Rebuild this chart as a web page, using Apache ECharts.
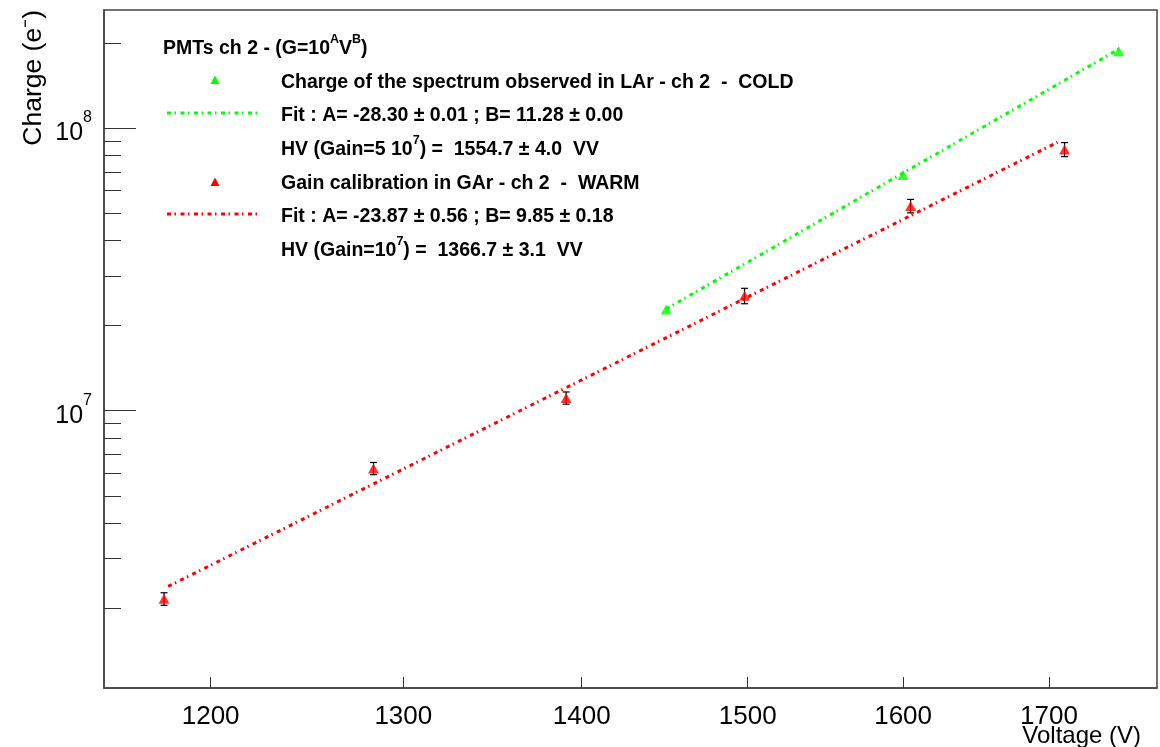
<!DOCTYPE html>
<html>
<head>
<meta charset="utf-8">
<script src="https://cdn.jsdelivr.net/npm/echarts@6/dist/echarts.min.js"></script>
<style>html,body{margin:0;padding:0;background:#fff}#c{width:1160px;height:747px}</style>
</head>
<body>
<div id="c"></div>
<script>
// ---- data ----
const xTickValues = [1200, 1300, 1400, 1500, 1600, 1700];
const yMajorTicks = [1e7, 1e8];
const yMinorTicks = [2e6, 3e6, 4e6, 5e6, 6e6, 7e6, 8e6, 9e6,
                     2e7, 3e7, 4e7, 5e7, 6e7, 7e7, 8e7, 9e7, 2e8];

const warmVoltage = [1177, 1284, 1391, 1498, 1605, 1711];
const warmCharge  = [2.16e6, 6.25e6, 1.11e7, 2.55e7, 5.30e7, 8.40e7];
const warmError   = [0.11e6, 0.31e6, 0.55e6, 1.6e6, 2.9e6, 4.8e6];

const coldVoltage = [1450, 1600, 1750];
const coldCharge  = [2.28e7, 6.82e7, 1.87e8];

const warmFitVoltage = [1179, 1706];
const warmFitCharge  = [2.39e6, 8.9e7];
const coldFitVoltage = [1450, 1750];
const coldFitCharge  = [2.29e7, 1.90e8];

const legendTitle = 'PMTs ch 2 - (G=10{s|A}{t|V}{s|B}{t|)}';
const legendRows = [
  'Charge of the spectrum observed in LAr - ch 2  -  COLD',
  'Fit : A= -28.30 \u00b1 0.01 ; B= 11.28 \u00b1 0.00',
  'HV (Gain=5 10{s|7}{t|) =  1554.7 \u00b1 4.0  VV}',
  'Gain calibration in GAr - ch 2  -  WARM',
  'Fit : A= -23.87 \u00b1 0.56 ; B= 9.85 \u00b1 0.18',
  'HV (Gain=10{s|7}{t|) =  1366.7 \u00b1 3.1  VV}'
];

// ---- chart ----
const FONT = '"Liberation Sans", Arial, Helvetica, sans-serif';
const RED = '#ff0000', GREEN = '#00ff00';
const zip = (a, b) => a.map((v, i) => [v, b[i]]);
const chart = echarts.init(document.getElementById('c'));

const legendY = [80, 113, 147, 181, 214, 248];
const legendText = 281;
const richLegend = {
  t: {fontFamily: FONT, fontWeight: 'bold', fontSize: 19.5, fill: '#000', lineHeight: 26, verticalAlign: 'bottom'},
  s: {fontFamily: FONT, fontWeight: 'bold', fontSize: 12.5, fill: '#000', lineHeight: 12, verticalAlign: 'top'}
};
function richWrap(txt) {
  const i = txt.indexOf('{');
  if (i < 0) return '{t|' + txt + '}';
  return '{t|' + txt.slice(0, i) + '}' + txt.slice(i);
}
const graphics = [];
graphics.push({type: 'text', x: 163, y: 46, z: 10,
  style: {text: richWrap(legendTitle), rich: richLegend, textVerticalAlign: 'middle'}});
legendRows.forEach((r, i) => {
  graphics.push({type: 'text', x: legendText, y: legendY[i], z: 10,
    style: {text: richWrap(r), rich: richLegend, textVerticalAlign: 'middle'}});
});
function tri(cx, cy, color) {
  return {type: 'polygon', z: 10, shape: {points: [[cx - 4.5, cy + 4], [cx + 4.5, cy + 4], [cx, cy - 4.5]]},
    style: {fill: color}};
}
graphics.push(tri(215, 80, GREEN));
graphics.push(tri(215, 182, RED));
graphics.push({type: 'line', z: 10, shape: {x1: 167, y1: 113, x2: 257, y2: 113},
  style: {stroke: GREEN, lineWidth: 3, lineDash: [4, 3.5, 1.5, 4.5]}});
graphics.push({type: 'line', z: 10, shape: {x1: 167, y1: 214, x2: 257, y2: 214},
  style: {stroke: RED, lineWidth: 3, lineDash: [4, 3.5, 1.5, 4.5]}});
// axis titles
graphics.push({type: 'text', x: 34, y: 10, rotation: Math.PI / 2,
  style: {text: 'Charge (e\u207B)', font: '26.5px ' + FONT, fill: '#000', textAlign: 'right', textVerticalAlign: 'middle'}});
graphics.push({type: 'text', x: 1141, y: 736,
  style: {text: 'Voltage (V)', font: '24px ' + FONT, fill: '#000', textAlign: 'right', textVerticalAlign: 'middle'}});

const errData = warmVoltage.map((v, i) => [v, warmCharge[i] - warmError[i], warmCharge[i] + warmError[i]]);

const option = {
  backgroundColor: '#fff',
  animation: false,
  grid: {left: 104, right: 3, top: 10, bottom: 59, show: true, borderColor: '#444', borderWidth: 1.5, backgroundColor: 'transparent'},
  xAxis: {
    type: 'log', logBase: 10, min: 1148, max: 1778,
    axisLine: {show: true, lineStyle: {color: '#444', width: 1.5}},
    axisTick: {show: true, inside: true, length: 11, customValues: xTickValues, lineStyle: {color: '#333'}},
    axisLabel: {show: true, customValues: xTickValues, margin: 16, fontFamily: FONT, fontSize: 26, color: '#000',
      formatter: v => String(Math.round(v))},
    splitLine: {show: false}, minorTick: {show: false}
  },
  yAxis: [{
    type: 'log', logBase: 10, min: 1.045e6, max: 2.615e8,
    axisLine: {show: true, lineStyle: {color: '#444', width: 1.5}},
    axisTick: {show: true, inside: true, length: 32, customValues: yMajorTicks, lineStyle: {color: '#333'}},
    axisLabel: {show: true, customValues: yMajorTicks, margin: 12,
      formatter: v => '{b|10}{s|' + Math.round(Math.log10(v)) + '}',
      rich: {b: {fontFamily: FONT, fontSize: 25, color: '#000', lineHeight: 36, verticalAlign: 'bottom'},
             s: {fontFamily: FONT, fontSize: 16, color: '#000', lineHeight: 16, verticalAlign: 'top'}}},
    splitLine: {show: false}
  }, {
    type: 'log', logBase: 10, min: 1.045e6, max: 2.615e8, position: 'left',
    axisLine: {show: false},
    axisTick: {show: true, inside: true, length: 17, customValues: yMinorTicks, lineStyle: {color: '#333'}},
    axisLabel: {show: false},
    splitLine: {show: false}
  }],
  series: [
    {type: 'line', data: zip(coldFitVoltage, coldFitCharge), showSymbol: false, symbol: 'none', z: 2,
      lineStyle: {color: GREEN, width: 3, type: [4, 3.5, 1.5, 4.5]}},
    {type: 'line', data: zip(warmFitVoltage, warmFitCharge), showSymbol: false, symbol: 'none', z: 2,
      lineStyle: {color: RED, width: 3, type: [4, 3.5, 1.5, 4.5]}},
    {type: 'custom', data: errData, z: 3,
      renderItem: (params, api) => {
        const lo = api.coord([api.value(0), api.value(1)]);
        const hi = api.coord([api.value(0), api.value(2)]);
        const st = {stroke: '#000', lineWidth: 1.2};
        return {type: 'group', children: [
          {type: 'line', shape: {x1: lo[0], y1: lo[1], x2: hi[0], y2: hi[1]}, style: st},
          {type: 'line', shape: {x1: lo[0] - 3.5, y1: lo[1], x2: lo[0] + 3.5, y2: lo[1]}, style: st},
          {type: 'line', shape: {x1: hi[0] - 3.5, y1: hi[1], x2: hi[0] + 3.5, y2: hi[1]}, style: st}
        ]};
      }},
    {type: 'scatter', data: zip(warmVoltage, warmCharge), symbol: 'triangle', symbolSize: [11, 10], z: 4,
      itemStyle: {color: RED}},
    {type: 'scatter', data: zip(coldVoltage, coldCharge), symbol: 'triangle', symbolSize: [11, 10], z: 4,
      itemStyle: {color: GREEN}}
  ],
  graphic: graphics
};
chart.setOption(option);
</script>
</body>
</html>
